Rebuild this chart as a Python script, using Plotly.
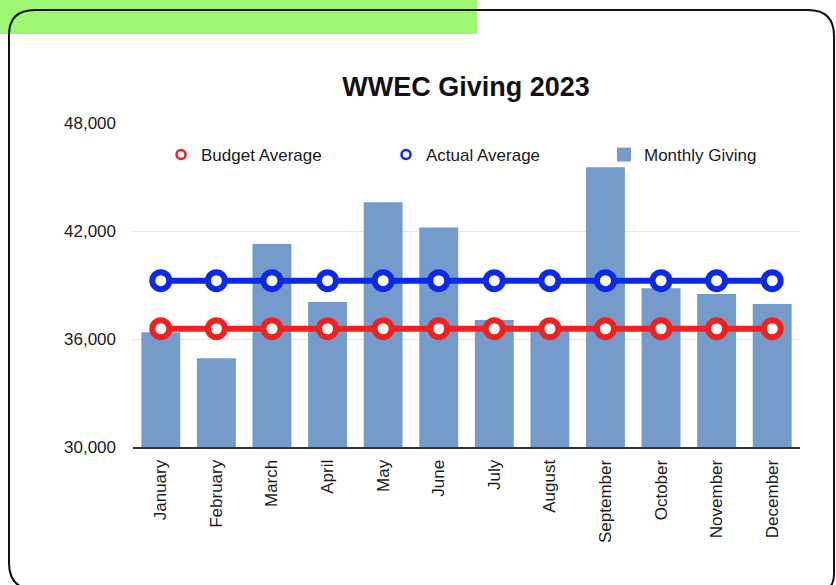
import plotly.graph_objects as go

# ---- data ----
months = ["January", "February", "March", "April", "May", "June",
          "July", "August", "September", "October", "November", "December"]
monthly_giving = [36370, 34930, 41280, 38060, 43600, 42200,
                  37060, 36550, 45540, 38820, 38500, 37940]
budget_average = [36570, 36570, 36570, 36570, 36570, 36570,
                  36570, 36570, 36570, 36570, 36570, 36570]
actual_average = [39240, 39240, 39240, 39240, 39240, 39240,
                  39240, 39240, 39240, 39240, 39240, 39240]
y_ticks = [30000, 36000, 42000, 48000]

W, H = 836, 585
L, R, T, B = 133, 36, 123, 138
PW, PH = W - L - R, H - T - B


def px(x):
    return (x - L) / PW


def py(y):
    return (H - B - y) / PH


FONT = "Liberation Sans, Arial, Helvetica, sans-serif"
BAR_C = "#759bcb"
RED = "#f22020"
BLUE = "#0c28e8"

fig = go.Figure()
fig.add_trace(go.Bar(x=months, y=monthly_giving, marker_color=BAR_C,
                     marker_line_width=0, name="Monthly Giving",
                     showlegend=False))
fig.add_trace(go.Scatter(x=months, y=budget_average, mode="lines+markers",
                         line=dict(color=RED, width=6),
                         marker=dict(symbol="circle", size=17, color="white",
                                     line=dict(color=RED, width=6)),
                         showlegend=False, name="Budget Average"))
fig.add_trace(go.Scatter(x=months, y=actual_average, mode="lines+markers",
                         line=dict(color=BLUE, width=6),
                         marker=dict(symbol="circle", size=17, color="white",
                                     line=dict(color=BLUE, width=6)),
                         showlegend=False, name="Actual Average"))
# legend entries, each in its own legend box
fig.add_trace(go.Scatter(x=[None], y=[None], mode="markers", name="Budget Average",
                         legend="legend",
                         marker=dict(symbol="circle", size=9, color="white",
                                     line=dict(color=RED, width=2.5))))
fig.add_trace(go.Scatter(x=[None], y=[None], mode="markers", name="Actual Average",
                         legend="legend2",
                         marker=dict(symbol="circle", size=9, color="white",
                                     line=dict(color=BLUE, width=2.5))))
fig.add_trace(go.Scatter(x=[None], y=[None], mode="markers", name="Monthly Giving",
                         legend="legend3",
                         marker=dict(symbol="square", size=14, color=BAR_C)))

border_path = (
    f"M {px(9)},{py(35)} Q {px(9)},{py(10)} {px(35)},{py(10)} "
    f"L {px(808)},{py(10)} Q {px(834)},{py(10)} {px(834)},{py(36)} "
    f"L {px(834)},{py(574)} Q {px(834)},{py(592)} {px(816)},{py(592)} "
    f"L {px(37)},{py(590)} Q {px(9)},{py(590)} {px(9)},{py(563)} Z"
)


def leg(xpix):
    return dict(orientation="h", x=px(xpix), xanchor="left", y=py(155),
                yanchor="middle", bgcolor="rgba(0,0,0,0)",
                font=dict(size=17, color="#1a1a1a"), itemclick=False)


fig.update_layout(
    width=W, height=H,
    margin=dict(l=L, r=R, t=T, b=B, autoexpand=False),
    paper_bgcolor="white", plot_bgcolor="white",
    font=dict(family=FONT, size=17, color="#1a1a1a"),
    bargap=0.3,
    title=dict(text="<b>WWEC Giving 2023</b>", x=px(466), xref="paper",
               xanchor="center", y=1 - 87 / H, yanchor="middle",
               font=dict(family=FONT, size=27, color="#111111")),
    legend=leg(161),
    legend2=leg(386),
    legend3=leg(604),
    xaxis=dict(type="category", range=[-0.5, 11.5], tickangle=-90,
               showgrid=False, showline=True, linecolor="#333333", linewidth=2,
               ticks="", tickfont=dict(size=17, color="#1a1a1a"),
               ticklabelstandoff=4),
    yaxis=dict(range=[30000, 48000], tickvals=y_ticks, tickformat=",",
               showgrid=True, gridcolor="#e6e6e6", gridwidth=1,
               zeroline=False, showline=False, ticks="",
               tickfont=dict(size=17, color="#1a1a1a"),
               ticklabelstandoff=16),
    shapes=[
        dict(type="rect", xref="paper", yref="paper",
             x0=px(0), x1=px(477), y0=py(0), y1=py(34),
             fillcolor="#9cf870", line=dict(width=0), layer="above"),
        dict(type="path", xref="paper", yref="paper", path=border_path,
             line=dict(color="#111111", width=2), fillcolor="rgba(0,0,0,0)",
             layer="above"),
    ],
)

fig.write_html("out.html",
               config={"displayModeBar": False},
               post_script="document.body.style.margin='0';"
                           "document.body.style.padding='0';")
